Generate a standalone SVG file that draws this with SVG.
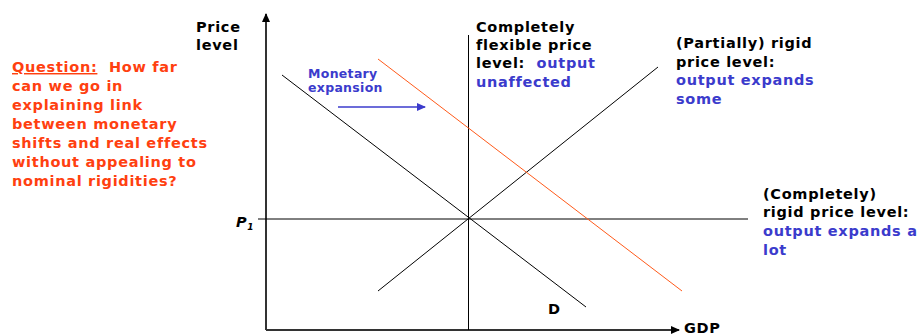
<svg xmlns="http://www.w3.org/2000/svg" width="923" height="336" viewBox="0 0 923 336">
<style>
text{font-family:"DejaVu Sans",Verdana,sans-serif;font-weight:bold;font-size:14.5px;letter-spacing:0.7px;white-space:pre}
.k{fill:#000}
.b{fill:#3b3bcc}
.r{fill:#ff4010}
.s{font-size:12.5px;letter-spacing:0.3px}
.ln{stroke:#000;stroke-width:1;fill:none}
.ax{stroke:#333;stroke-width:2;fill:none}
</style>
<defs>
<marker id="ah" markerWidth="10" markerHeight="10" refX="8" refY="5" orient="auto" markerUnits="userSpaceOnUse">
<path d="M0,1 L9,5 L0,9 Z" fill="#000"/>
</marker>
<marker id="bh" markerWidth="10" markerHeight="10" refX="8" refY="5" orient="auto" markerUnits="userSpaceOnUse">
<path d="M0,1 L9,5 L0,9 Z" fill="#3b3bcc"/>
</marker>
</defs>
<g id="connectors">
<line id="y-axis" class="ax" x1="266" y1="330" x2="266" y2="14" marker-end="url(#ah)"/>
<line id="x-axis" class="ax" x1="266" y1="330" x2="679" y2="330" marker-end="url(#ah)"/>
<line id="vertical-supply" class="ln" x1="468.5" y1="35" x2="468.5" y2="330"/>
<line id="horizontal-supply" class="ln" x1="258" y1="219" x2="748" y2="219"/>
<line id="upward-supply" class="ln" x1="378" y1="291" x2="658" y2="67"/>
<line id="demand" class="ln" x1="282" y1="75" x2="586" y2="307"/>
<line id="demand-shifted" x1="378" y1="59" x2="682" y2="291" stroke="#ff5a1a" stroke-width="1"/>
<line id="shift-arrow" x1="338" y1="107" x2="425" y2="107" stroke="#3b3bcc" stroke-width="1.3" marker-end="url(#bh)"/>
</g>
<g id="question">
<text class="r" x="12" y="72"><tspan text-decoration="underline">Question:</tspan>  How far</text>
<text class="r" x="12" y="91">can we go in</text>
<text class="r" x="12" y="110">explaining link</text>
<text class="r" x="12" y="129">between monetary</text>
<text class="r" x="12" y="148">shifts and real effects</text>
<text class="r" x="12" y="167">without appealing to</text>
<text class="r" x="12" y="186">nominal rigidities?</text>
</g>
<g id="y-label">
<text class="k" x="196" y="32">Price</text>
<text class="k" x="196" y="50">level</text>
</g>
<g id="x-label">
<text class="k" x="684" y="333">GDP</text>
</g>
<g id="p1-label">
<text class="k" x="236" y="227" font-style="italic">P<tspan font-size="9" dy="3">1</tspan></text>
</g>
<g id="d-label">
<text class="k" x="548" y="314">D</text>
</g>
<g id="monetary-expansion">
<text class="b s" x="308" y="78">Monetary</text>
<text class="b s" x="308" y="92">expansion</text>
</g>
<g id="flexible-label">
<text class="k" x="476" y="32">Completely</text>
<text class="k" x="476" y="50">flexible price</text>
<text class="k" x="476" y="68">level:  <tspan class="b">output</tspan></text>
<text class="b" x="476" y="87">unaffected</text>
</g>
<g id="partial-label">
<text class="k" x="676" y="48">(Partially) rigid</text>
<text class="k" x="676" y="67">price level:</text>
<text class="b" x="676" y="85">output expands</text>
<text class="b" x="676" y="104">some</text>
</g>
<g id="rigid-label">
<text class="k" x="763" y="199">(Completely)</text>
<text class="k" x="763" y="217">rigid price level:</text>
<text class="b" x="763" y="236">output expands a</text>
<text class="b" x="763" y="255">lot</text>
</g>
</svg>
